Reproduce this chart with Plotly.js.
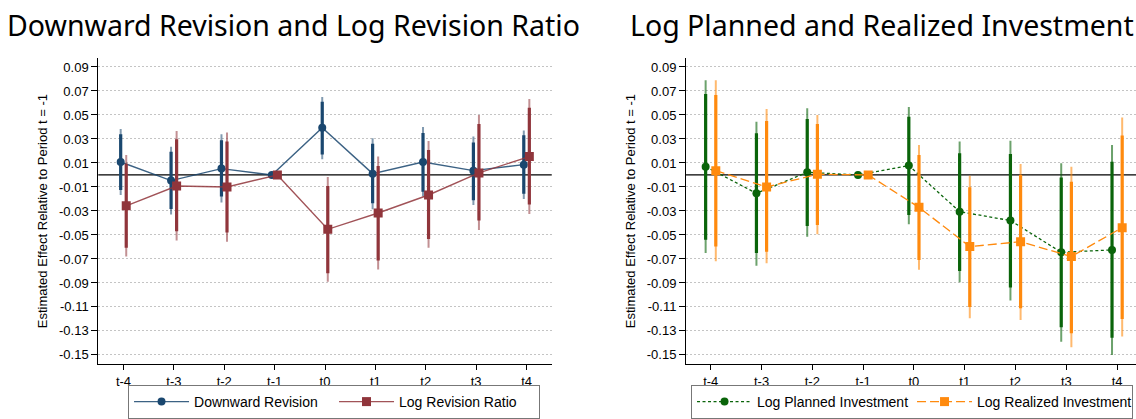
<!DOCTYPE html>
<html>
<head>
<meta charset="utf-8">
<script src="https://cdn.plot.ly/plotly-3.0.1.min.js"></script>
<style>html,body{margin:0;padding:0;background:#fff;}#chart{width:1136px;height:419px;}</style>
</head>
<body>
<div id="chart"></div>
<script>
// ---- Data ----
const periods = ['t-4','t-3','t-2','t-1','t0','t1','t2','t3','t4'];
const yTickVals = [0.09,0.07,0.05,0.03,0.01,-0.01,-0.03,-0.05,-0.07,-0.09,-0.11,-0.13,-0.15];
const yTickText = ['0.09','0.07','0.05','0.03','0.01','-0.01','-0.03','-0.05','-0.07','-0.09','-0.11','-0.13','-0.15'];

// Downward Revision
const drEst  = [0.0108,-0.0047,0.0053,0,0.0394,0.0011,0.0108,0.0036,0.0086];
const drLo90 = [-0.0125,-0.0283,-0.018,null,0.017,-0.0236,-0.014,-0.021,-0.0156];
const drHi90 = [0.0339,0.0194,0.029,null,0.061,0.026,0.035,0.027,0.033];
const drLo95 = [-0.0167,-0.033,-0.023,null,0.013,-0.0286,-0.018,-0.025,-0.020];
const drHi95 = [0.0383,0.0236,0.034,null,0.065,0.0306,0.040,0.032,0.037];

// Log Revision Ratio
const lrrEst  = [-0.0257,-0.0092,-0.010,0,-0.0453,-0.0317,-0.0167,0.0017,0.0153];
const lrrLo90 = [-0.0606,-0.047,-0.048,null,-0.082,-0.0714,-0.0533,-0.038,-0.0247];
const lrrHi90 = [0.0093,0.0297,0.0278,null,-0.0092,0.0075,0.0208,0.0425,0.056];
const lrrLo95 = [-0.068,-0.0547,-0.0556,null,-0.089,-0.0789,-0.0606,-0.0458,-0.0325];
const lrrHi95 = [0.0167,0.0367,0.0353,null,-0.0017,0.0153,0.0283,0.05,0.0633];

// Log Planned Investment
const lpiEst  = [0.0069,-0.0153,0.0022,0,0.0078,-0.0306,-0.038,-0.0644,-0.0625];
const lpiLo90 = [-0.054,-0.065,-0.0425,null,-0.0333,-0.08,-0.0939,-0.127,-0.1356];
const lpiHi90 = [0.0675,0.0347,0.0467,null,0.0486,0.018,0.0175,-0.0022,0.011];
const lpiLo95 = [-0.065,-0.0756,-0.0514,null,-0.041,-0.0894,-0.1047,-0.139,-0.15];
const lpiHi95 = [0.079,0.0444,0.0556,null,0.0567,0.0278,0.0286,0.0097,0.025];

// Log Realized Investment
const lriEst  = [0.0036,-0.010,0.0006,0,-0.027,-0.0597,-0.0556,-0.068,-0.0439];
const lriLo90 = [-0.0597,-0.064,-0.0417,null,-0.0708,-0.110,-0.111,-0.132,-0.12];
const lriHi90 = [0.0667,0.045,0.0425,null,0.0167,-0.0103,0,-0.0056,0.0328];
const lriLo95 = [-0.072,-0.0736,-0.0494,null,-0.079,-0.1194,-0.1208,-0.1436,-0.1347];
const lriHi95 = [0.079,0.055,0.05,null,0.025,-0.0006,0.0092,0.0069,0.0478];

// ---- Build traces ----
const FONT = 'Liberation Sans, Arial, sans-serif';
function up(hi, est){ return hi.map((h,i)=> h===null ? NaN : h - est[i]); }
function dn(lo, est){ return lo.map((l,i)=> l===null ? NaN : est[i] - l); }

function series(opts){
  const x = periods.map((_,i)=> i + opts.off);
  const base = {x: x, y: opts.est, xaxis: opts.xa, yaxis: opts.ya, type:'scatter', mode:'markers',
    marker:{size:1, opacity:0}, showlegend:false, hoverinfo:'skip'};
  const thin = Object.assign({}, base, {error_y:{type:'data', symmetric:false,
    array: up(opts.hi95, opts.est), arrayminus: dn(opts.lo95, opts.est),
    color: opts.light, thickness: opts.thin, width:0}});
  const thick = Object.assign({}, base, {error_y:{type:'data', symmetric:false,
    array: up(opts.hi90, opts.est), arrayminus: dn(opts.lo90, opts.est),
    color: opts.color, thickness: opts.thick, width:0}});
  const main = {x: x, y: opts.est, xaxis: opts.xa, yaxis: opts.ya, type:'scatter', mode:'lines+markers',
    name: opts.name, legend: opts.legend,
    line:{color: opts.lineColor, width: opts.lw, dash: opts.dash},
    marker:{color: opts.color, size: opts.msize, symbol: opts.symbol}};
  return [thin, thick, main];
}

const traces = [].concat(
  series({name:'Downward Revision', est:drEst, lo90:drLo90, hi90:drHi90, lo95:drLo95, hi95:drHi95,
    off:-0.055, xa:'x', ya:'y', legend:'legend', color:'#1a476f', light:'rgba(26,71,111,0.55)',
    lineColor:'rgba(26,71,111,0.85)', lw:1.4, dash:'solid', msize:8, symbol:'circle', thin:2, thick:3.2}),
  series({name:'Log Revision Ratio', est:lrrEst, lo90:lrrLo90, hi90:lrrHi90, lo95:lrrLo95, hi95:lrrHi95,
    off:0.055, xa:'x', ya:'y', legend:'legend', color:'#90353b', light:'rgba(144,53,59,0.55)',
    lineColor:'rgba(144,53,59,0.85)', lw:1.4, dash:'solid', msize:9, symbol:'square', thin:2, thick:3.2}),
  series({name:'Log Planned Investment', est:lpiEst, lo90:lpiLo90, hi90:lpiHi90, lo95:lpiLo95, hi95:lpiHi95,
    off:-0.1, xa:'x2', ya:'y2', legend:'legend2', color:'#0a640a', light:'rgba(10,100,10,0.6)',
    lineColor:'#0a640a', lw:1.3, dash:'3px,2.5px', msize:8, symbol:'circle', thin:2, thick:3.2}),
  series({name:'Log Realized Investment', est:lriEst, lo90:lriLo90, hi90:lriHi90, lo95:lriLo95, hi95:lriHi95,
    off:0.1, xa:'x2', ya:'y2', legend:'legend2', color:'#ff8a0e', light:'rgba(255,138,14,0.6)',
    lineColor:'#ff8a0e', lw:1.3, dash:'9px,4px', msize:9, symbol:'square', thin:2, thick:3.2})
);

function xAxis(domain, range){
  return {domain: domain, range: range, tickvals: periods.map((_,i)=>i), ticktext: periods,
    showline:true, linecolor:'#000', linewidth:1, ticks:'outside', ticklen:5, tickcolor:'#000',
    showgrid:false, zeroline:false, tickfont:{family:FONT, size:13, color:'#000'}};
}
function yAxis(anchor){
  return {domain:[0.1306,0.8616], range:[-0.1578,0.0975], anchor: anchor,
    tickvals: yTickVals, ticktext: yTickText,
    showline:true, linecolor:'#000', linewidth:1, ticks:'outside', ticklen:6, tickcolor:'#000',
    showgrid:true, gridcolor:'#c4c4c4', griddash:'1.5px,2.5px', gridwidth:1, zeroline:false,
    tickfont:{family:FONT, size:13, color:'#000'},
    title:{text:'Estimated Effect Relative to Period t = -1', font:{family:FONT, size:13, color:'#000'}, standoff:8}};
}

const legendStyle = (x, ew)=>({x:x, y:0, xanchor:'left', yanchor:'bottom', orientation:'h',
  bordercolor:'#777', borderwidth:1, bgcolor:'#fff', font:{family:FONT, size:14, color:'#000'},
  itemwidth:55, entrywidth: ew, entrywidthmode:'pixels', tracegroupgap:0});

const layout = {
  width:1136, height:419, margin:{l:0,r:0,t:0,b:0}, paper_bgcolor:'#fff', plot_bgcolor:'#fff',
  showlegend:true,
  xaxis: xAxis([0.0865,0.4857],[-0.5,8.5]),
  yaxis: yAxis('x'),
  xaxis2: Object.assign(xAxis([0.6039,1],[-0.486,8.372]), {anchor:'y2'}),
  yaxis2: yAxis('x2'),
  legend: legendStyle(0.1127, 135),
  legend2: legendStyle(0.6083, 150),
  shapes:[
    {type:'line', xref:'x domain', yref:'y', x0:0, x1:1, y0:0, y1:0, line:{color:'#000', width:1.2}, layer:'below'},
    {type:'line', xref:'x2 domain', yref:'y2', x0:0, x1:1, y0:0, y1:0, line:{color:'#000', width:1.2}, layer:'below'}
  ],
  annotations:[
    {text:'Downward Revision and Log Revision Ratio', xref:'paper', yref:'paper', x:293/1136, y:1-25/419,
      xanchor:'center', yanchor:'middle', showarrow:false, font:{family:'Noto Sans', size:28.5, color:'#000'}},
    {text:'Log Planned and Realized Investment', xref:'paper', yref:'paper', x:882/1136, y:1-25/419,
      xanchor:'center', yanchor:'middle', showarrow:false, font:{family:'Noto Sans', size:28.5, color:'#000'}}
  ]
};

Plotly.newPlot('chart', traces, layout, {displayModeBar:false, staticPlot:true});
</script>
</body>
</html>
